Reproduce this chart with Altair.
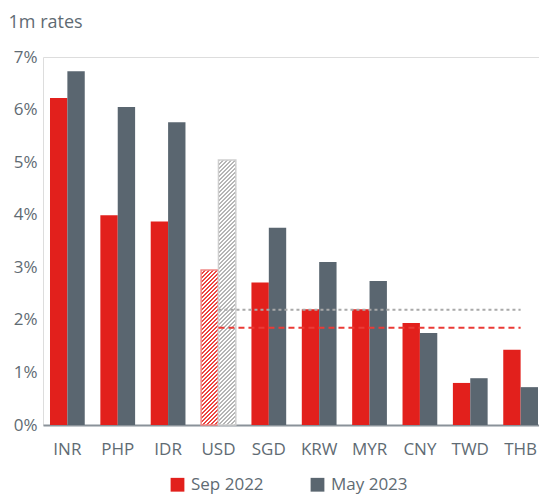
import altair as alt
import pandas as pd

categories = ["INR", "PHP", "IDR", "USD", "SGD", "KRW", "MYR", "CNY", "TWD", "THB"]
sep_2022 = [6.22, 3.99, 3.87, 2.95, 2.71, 2.20, 2.20, 1.94, 0.80, 1.43]
may_2023 = [6.73, 6.05, 5.76, 5.04, 3.75, 3.10, 2.74, 1.75, 0.89, 0.72]
series = ["Sep 2022", "May 2023"]
hatched_category = "USD"
ref_lines = {"Sep 2022": 1.85, "May 2023": 2.19}
ref_from, ref_to = "USD", "THB"
y_ticks = [0, 1, 2, 3, 4, 5, 6, 7]

RED = "#e2201c"
GREY = "#5a6670"
TEXT = "#5f6b73"
FONT = "Open Sans"

W, H = 496, 368
Y_MAX = 7
P_IN, P_OUT, ALIGN = 0.31, 0.0794, 0.875

rows = []
for c, s, m in zip(categories, sep_2022, may_2023):
    rows.append({"cur": c, "series": series[0], "value": s})
    rows.append({"cur": c, "series": series[1], "value": m})
df = pd.DataFrame(rows)
solid = df[df.cur != hatched_category]

x_enc = alt.X("cur:N", sort=categories,
              scale=alt.Scale(domain=categories, paddingInner=P_IN, paddingOuter=P_OUT, align=ALIGN),
              axis=alt.Axis(title=None, labelAngle=0, ticks=False, domain=True, domainColor="#8a9299",
                            domainWidth=2, labelFontSize=17, labelColor=TEXT, labelPadding=16, labelFont=FONT))
xo_enc = alt.XOffset("series:N", sort=series, scale=alt.Scale(domain=series, paddingInner=0, paddingOuter=0))
y_enc = alt.Y("value:Q", scale=alt.Scale(domain=[0, Y_MAX], nice=False),
              axis=alt.Axis(values=y_ticks, labelExpr="datum.value + '%'", grid=False, ticks=False,
                            domain=False, labelFontSize=17, labelColor=TEXT, labelPadding=6, labelFont=FONT,
                            title="1m rates", titleAngle=0, titleAlign="left", titleBaseline="alphabetic",
                            titleX=-35, titleY=-30, titleFontSize=18, titleFontWeight="normal",
                            titleColor=TEXT, titleFont=FONT))

bars = alt.Chart(solid).mark_bar().encode(
    x=x_enc, xOffset=xo_enc, y=y_enc,
    color=alt.Color("series:N", sort=series,
                    scale=alt.Scale(domain=series, range=[RED, GREY]),
                    legend=alt.Legend(title=None, orient="none", legendX=126, legendY=419,
                                      direction="horizontal", symbolType="square", symbolSize=190,
                                      symbolStrokeWidth=0, labelFontSize=17, labelColor=TEXT,
                                      labelFont=FONT, columnPadding=45, labelOffset=5)),
)

# hatched bars (diagonal stripes via hard-stop linear gradient)
step = W / (len(categories) - P_IN + 2 * P_OUT)
bar_w = step * (1 - P_IN) / 2


def hatch(value, color, period=4.0, duty=0.45):
    h = value / Y_MAX * H
    w = bar_w
    r = w / h
    dy = (r + 1) / (r * r + 1)
    dx = r * dy
    n = (w + h) / period
    stops = []
    k = 0
    while k < n:
        a = k / n
        b = min((k + duty) / n, 1)
        c = min((k + 1) / n, 1)
        stops += [{"offset": a, "color": color}, {"offset": b, "color": color},
                  {"offset": b, "color": "#ffffff"}, {"offset": c, "color": "#ffffff"}]
        k += 1
    return alt.LinearGradient(gradient="linear", x1=0, y1=0, x2=dx, y2=dy, stops=stops)


hatch_layers = []
hatch_styles = {series[0]: ("#ec4541", "#f08a88"), series[1]: ("#b5b5b5", "#cfcfcf")}
for s in series:
    d = df[(df.cur == hatched_category) & (df.series == s)]
    v = float(d.value.iloc[0])
    stripe, border = hatch_styles[s]
    hatch_layers.append(
        alt.Chart(d).mark_bar(fill=hatch(v, stripe), stroke=border, strokeWidth=1.5).encode(
            x=x_enc, xOffset=xo_enc, y=y_enc)
    )

ref_df = pd.DataFrame([{"a": ref_from, "b": ref_to, "y": ref_lines[s], "series": s} for s in series])
rule_grey = alt.Chart(ref_df[ref_df.series == series[1]]).mark_rule(
    color="#a9a9a9", strokeWidth=2, strokeDash=[3, 3]).encode(x=alt.X("a:N", sort=categories), x2="b", y="y:Q")
rule_red = alt.Chart(ref_df[ref_df.series == series[0]]).mark_rule(
    color="#ea3b36", strokeWidth=2, strokeDash=[6, 4]).encode(x=alt.X("a:N", sort=categories), x2="b", y="y:Q")

chart = alt.layer(bars, *hatch_layers, rule_grey, rule_red).properties(
    width=W, height=H, padding={"left": 0, "top": 5, "right": 0, "bottom": 3}
).configure_view(stroke=None).configure(background="white")

chart.save("out.html", embed_options={"renderer": "svg", "actions": False})
